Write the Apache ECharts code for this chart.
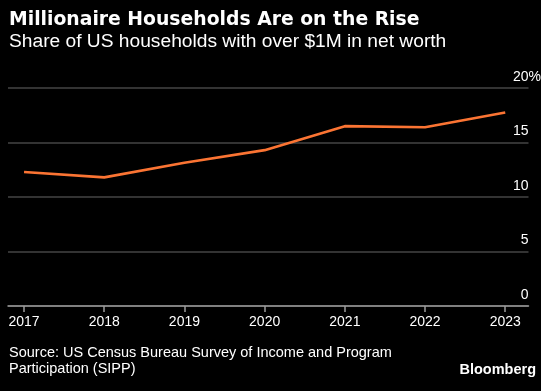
<!DOCTYPE html>
<html>
<head>
<meta charset="utf-8">
<script src="https://cdn.jsdelivr.net/npm/echarts@6/dist/echarts.min.js"></script>
<style>
html,body{margin:0;padding:0;background:#000;}
#c{width:541px;height:391px;}
</style>
</head>
<body>
<div id="c"></div>
<script>
const years = [2017, 2018, 2019, 2020, 2021, 2022, 2023];
const shares = [12.3, 11.8, 13.15, 14.3, 16.5, 16.4, 17.75];
const yTicks = [0, 5, 10, 15, 20];
const titleText = 'Millionaire Households Are on the Rise';
const subtitleText = 'Share of US households with over $1M in net worth';
const sourceLines = ['Source: US Census Bureau Survey of Income and Program', 'Participation (SIPP)'];
const brandText = 'Bloomberg';

const chart = echarts.init(document.getElementById('c'), null, {renderer: 'canvas'});
const seriesData = years.map((y, i) => [y, shares[i]]);
const baseFont = 'Liberation Sans';

chart.setOption({
  backgroundColor: '#000',
  animation: false,
  grid: {left: 8, right: 12.5, top: 88, bottom: 85, containLabel: false},
  xAxis: {
    type: 'value',
    min: 2016.8,
    max: 2023.29,
    splitLine: {show: false},
    axisLine: {show: true, lineStyle: {color: '#9a9a9a', width: 1.5}},
    axisTick: {show: true, length: 6, lineStyle: {color: '#9a9a9a', width: 1.5}, customValues: years},
    axisLabel: {
      color: '#fff', fontFamily: baseFont, fontSize: 14, margin: 9,
      customValues: years, formatter: v => String(v)
    }
  },
  yAxis: {
    type: 'value',
    position: 'right',
    min: 0, max: 20, interval: 5,
    axisLine: {show: false},
    axisTick: {show: false},
    splitLine: {show: true, lineStyle: {color: '#444', width: 1.5}},
    axisLabel: {
      inside: true, margin: 0, color: '#fff', fontFamily: baseFont, fontSize: 14,
      verticalAlign: 'bottom', align: 'right', padding: [0, 0, 4, 0],
      showMinLabel: true, showMaxLabel: true
    }
  },
  series: [{
    type: 'line',
    data: seriesData,
    symbol: 'none',
    lineStyle: {color: '#fb7433', width: 2.6},
    z: 3
  }],
  graphic: []
});

const pctPos = chart.convertToPixel({gridIndex: 0}, [2023.29, 20]);

chart.setOption({
  graphic: [
    {type: 'text', left: 9, top: 11, style: {text: titleText, font: 'bold 18.8px "DejaVu Sans"', fill: '#fff'}},
    {type: 'text', left: 9, top: 32, style: {text: subtitleText, font: '19.2px "Liberation Sans"', fill: '#fff'}},
    {type: 'text', left: 9, top: 345, style: {text: sourceLines[0], font: '14.5px "Liberation Sans"', fill: '#fff'}},
    {type: 'text', left: 9, top: 361, style: {text: sourceLines[1], font: '14.5px "Liberation Sans"', fill: '#fff'}},
    {type: 'text', right: 5, top: 362, style: {text: brandText, font: 'bold 14.5px "Liberation Sans"', fill: '#fff'}},
    {type: 'text', x: pctPos[0], y: pctPos[1] - 4, style: {text: '%', font: '14px "Liberation Sans"', fill: '#fff', textAlign: 'left', textVerticalAlign: 'bottom'}}
  ]
});
</script>
</body>
</html>
